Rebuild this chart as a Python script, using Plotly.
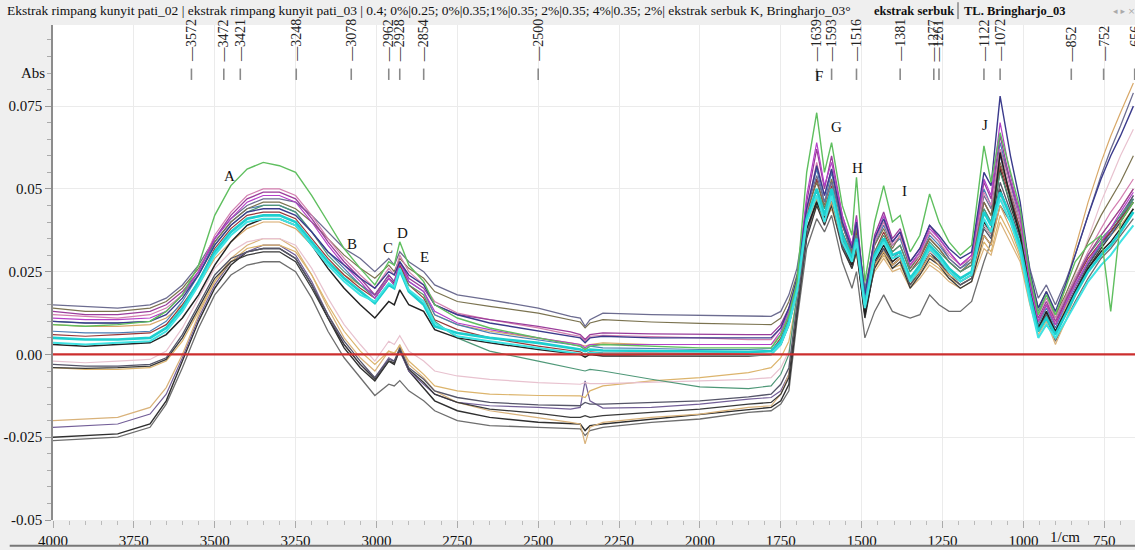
import plotly.graph_objects as go

# Wavenumber grid (1/cm), high to low
wavenumber = [4000, 3900, 3800, 3700, 3650, 3600, 3550, 3500, 3450, 3400,
              3350, 3300, 3250, 3200, 3150, 3100, 3050, 3005, 2962, 2945,
              2928, 2900, 2854, 2820, 2750, 2650, 2500, 2400, 2370, 2355,
              2340, 2300, 2150, 2000, 1850, 1780,
              1750, 1725, 1700, 1670, 1639, 1615, 1593, 1560, 1530, 1516,
              1490, 1460, 1432, 1405, 1381, 1350, 1320, 1290, 1261, 1230,
              1195, 1160, 1122, 1100, 1072, 1040, 1010, 980, 954, 929,
              901, 870, 840, 800, 760, 730, 700, 660]

# Absorbance spectra
abs_slate = [0.015, 0.0145, 0.014, 0.015, 0.017, 0.021, 0.027, 0.035, 0.041, 0.045,
             0.047, 0.047, 0.046, 0.042, 0.037, 0.032, 0.029, 0.025, 0.029, 0.027,
             0.031, 0.028, 0.025, 0.021, 0.018, 0.0165, 0.014, 0.0115, 0.011, 0.0085,
             0.0105, 0.0125, 0.012, 0.0118, 0.0115, 0.0115,
             0.013, 0.018, 0.026, 0.044, 0.054, 0.046, 0.052, 0.040, 0.030, 0.036,
             0.020, 0.034, 0.040, 0.034, 0.037, 0.027, 0.031, 0.037, 0.034, 0.029,
             0.026, 0.029, 0.048, 0.044, 0.062, 0.052, 0.043, 0.026, 0.017, 0.021,
             0.015, 0.022, 0.030, 0.042, 0.054, 0.062, 0.069, 0.079]
abs_olive = [0.014, 0.013, 0.013, 0.014, 0.016, 0.020, 0.026, 0.034, 0.040, 0.044,
             0.046, 0.046, 0.044, 0.040, 0.035, 0.030, 0.026, 0.023, 0.027, 0.025,
             0.029, 0.026, 0.023, 0.019, 0.016, 0.0145, 0.0125, 0.0105, 0.0098, 0.008,
             0.0095, 0.0105, 0.0098, 0.0094, 0.009, 0.009,
             0.011, 0.016, 0.024, 0.043, 0.052, 0.045, 0.053, 0.039, 0.031, 0.038,
             0.019, 0.033, 0.038, 0.032, 0.036, 0.026, 0.030, 0.035, 0.032, 0.028,
             0.025, 0.028, 0.046, 0.042, 0.058, 0.049, 0.040, 0.024, 0.014, 0.019,
             0.012, 0.018, 0.025, 0.034, 0.042, 0.047, 0.052, 0.060]
abs_purple = [0.013, 0.012, 0.012, 0.013, 0.015, 0.019, 0.025, 0.035, 0.042, 0.047,
              0.049, 0.049, 0.047, 0.041, 0.034, 0.028, 0.023, 0.018, 0.024, 0.022,
              0.028, 0.023, 0.020, 0.015, 0.012, 0.0105, 0.0085, 0.0068, 0.006, 0.0045,
              0.006, 0.0065, 0.0062, 0.006, 0.006, 0.006,
              0.009, 0.014, 0.022, 0.046, 0.062, 0.050, 0.060, 0.042, 0.033, 0.042,
              0.017, 0.036, 0.043, 0.035, 0.038, 0.028, 0.032, 0.039, 0.035, 0.031,
              0.027, 0.030, 0.052, 0.047, 0.066, 0.052, 0.042, 0.022, 0.011, 0.016,
              0.010, 0.016, 0.022, 0.030, 0.036, 0.040, 0.044, 0.050]
abs_pink = [0.012, 0.0115, 0.011, 0.012, 0.014, 0.018, 0.025, 0.036, 0.043, 0.048,
            0.050, 0.050, 0.048, 0.042, 0.035, 0.029, 0.024, 0.020, 0.026, 0.024,
            0.030, 0.025, 0.021, 0.016, 0.0125, 0.0105, 0.008, 0.006, 0.0055, 0.004,
            0.0055, 0.0058, 0.0055, 0.005, 0.0045, 0.0045,
            0.008, 0.013, 0.021, 0.043, 0.058, 0.048, 0.056, 0.041, 0.032, 0.040,
            0.016, 0.034, 0.040, 0.033, 0.036, 0.027, 0.030, 0.037, 0.034, 0.030,
            0.027, 0.029, 0.049, 0.045, 0.062, 0.050, 0.040, 0.022, 0.012, 0.017,
            0.011, 0.017, 0.023, 0.031, 0.038, 0.043, 0.047, 0.053]
abs_green = [0.009, 0.0085, 0.009, 0.010, 0.013, 0.018, 0.027, 0.042, 0.051, 0.056,
             0.058, 0.057, 0.055, 0.048, 0.040, 0.032, 0.026, 0.021, 0.028, 0.027,
             0.034, 0.027, 0.022, 0.015, 0.011, 0.008, 0.005, 0.003, 0.0025, 0.0015,
             0.0025, 0.003, 0.0025, 0.002, 0.002, 0.002,
             0.006, 0.012, 0.022, 0.055, 0.073, 0.055, 0.064, 0.045, 0.036, 0.0535,
             0.022, 0.040, 0.051, 0.040, 0.042, 0.031, 0.036, 0.0485, 0.040, 0.034,
             0.030, 0.033, 0.063, 0.052, 0.067, 0.055, 0.044, 0.024, 0.012, 0.018,
             0.012, 0.020, 0.028, 0.033, 0.036, 0.013, 0.040, 0.046]
abs_seagreen = [0.010, 0.0095, 0.0095, 0.010, 0.013, 0.018, 0.024, 0.033, 0.039, 0.043,
                0.045, 0.045, 0.043, 0.037, 0.030, 0.025, 0.021, 0.017, 0.023, 0.021,
                0.026, 0.021, 0.018, 0.010, 0.005, 0.001, -0.002, -0.004, -0.0045, -0.005,
                -0.0045, -0.005, -0.0075, -0.0098, -0.0103, -0.0095,
                -0.006, 0.000, 0.018, 0.040, 0.050, 0.044, 0.050, 0.037, 0.030, 0.036,
                0.019, 0.031, 0.036, 0.031, 0.033, 0.025, 0.028, 0.034, 0.031, 0.028,
                0.025, 0.027, 0.044, 0.040, 0.055, 0.046, 0.037, 0.023, 0.013, 0.018,
                0.011, 0.017, 0.023, 0.030, 0.035, 0.038, 0.042, 0.047]
abs_cyan = [0.005, 0.0045, 0.0045, 0.005, 0.008, 0.014, 0.022, 0.031, 0.037, 0.041,
            0.042, 0.042, 0.040, 0.034, 0.028, 0.023, 0.019, 0.0155, 0.021, 0.020,
            0.0255, 0.019, 0.015, 0.0085, 0.0065, 0.005, 0.0035, 0.002, 0.0015, 0.001,
            0.0015, 0.0012, 0.001, 0.0008, 0.0008, 0.001,
            0.004, 0.010, 0.020, 0.041, 0.050, 0.042, 0.050, 0.036, 0.029, 0.035,
            0.015, 0.030, 0.035, 0.030, 0.031, 0.023, 0.027, 0.033, 0.030, 0.026,
            0.023, 0.025, 0.043, 0.039, 0.049, 0.042, 0.033, 0.018, 0.007, 0.011,
            0.006, 0.012, 0.018, 0.025, 0.030, 0.033, 0.037, 0.043]
abs_aqua = [0.0035, 0.003, 0.0035, 0.004, 0.007, 0.013, 0.021, 0.030, 0.036, 0.040,
            0.041, 0.041, 0.039, 0.033, 0.027, 0.022, 0.018, 0.016, 0.0215, 0.0205,
            0.026, 0.0195, 0.016, 0.0095, 0.0055, 0.004, 0.002, 0.0008, 0.0003, 0.0,
            0.0005, 0.0003, 0.0, -0.0002, -0.0002, 0.0,
            0.003, 0.009, 0.019, 0.040, 0.048, 0.040, 0.048, 0.034, 0.028, 0.034,
            0.014, 0.029, 0.034, 0.029, 0.030, 0.022, 0.026, 0.032, 0.029, 0.025,
            0.022, 0.024, 0.041, 0.037, 0.047, 0.040, 0.031, 0.016, 0.005, 0.009,
            0.005, 0.010, 0.015, 0.022, 0.027, 0.030, 0.034, 0.039]
abs_steel = [0.007, 0.0065, 0.0065, 0.007, 0.010, 0.016, 0.024, 0.034, 0.040, 0.044,
             0.045, 0.045, 0.043, 0.037, 0.031, 0.026, 0.021, 0.018, 0.024, 0.022,
             0.027, 0.022, 0.019, 0.012, 0.009, 0.0065, 0.0045, 0.003, 0.0025, 0.0015,
             0.0025, 0.002, 0.0018, 0.0015, 0.0015, 0.0018,
             0.006, 0.012, 0.021, 0.044, 0.056, 0.046, 0.055, 0.039, 0.031, 0.039,
             0.017, 0.033, 0.039, 0.033, 0.035, 0.026, 0.030, 0.036, 0.033, 0.029,
             0.026, 0.028, 0.050, 0.045, 0.064, 0.052, 0.040, 0.020, 0.009, 0.014,
             0.008, 0.015, 0.021, 0.028, 0.033, 0.036, 0.041, 0.047]
abs_black = [0.003, 0.0025, 0.003, 0.0035, 0.006, 0.011, 0.018, 0.027, 0.034, 0.039,
             0.041, 0.041, 0.039, 0.033, 0.026, 0.020, 0.015, 0.011, 0.016, 0.015,
             0.0195, 0.015, 0.013, 0.0075, 0.005, 0.0035, 0.0015, 0.0005, 0.0, -0.0008,
             0.0, -0.0005, -0.0005, -0.0005, -0.0005, 0.0,
             0.003, 0.009, 0.019, 0.038, 0.046, 0.041, 0.048, 0.034, 0.027, 0.033,
             0.012, 0.028, 0.033, 0.028, 0.030, 0.022, 0.026, 0.032, 0.029, 0.025,
             0.022, 0.024, 0.040, 0.037, 0.061, 0.047, 0.036, 0.019, 0.008, 0.013,
             0.007, 0.013, 0.019, 0.026, 0.031, 0.034, 0.038, 0.044]
abs_darkred = [0.006, 0.0055, 0.006, 0.0065, 0.009, 0.015, 0.022, 0.032, 0.038, 0.042,
               0.043, 0.043, 0.041, 0.035, 0.029, 0.024, 0.020, 0.017, 0.023, 0.0215,
               0.027, 0.021, 0.017, 0.0105, 0.0075, 0.005, 0.0025, 0.0012, 0.0008, 0.0,
               0.0008, 0.0005, 0.0003, 0.0003, 0.0005, 0.001,
               0.005, 0.011, 0.020, 0.042, 0.053, 0.044, 0.051, 0.037, 0.030, 0.037,
               0.016, 0.031, 0.037, 0.031, 0.033, 0.025, 0.029, 0.035, 0.032, 0.028,
               0.025, 0.027, 0.046, 0.042, 0.057, 0.047, 0.038, 0.020, 0.010, 0.015,
               0.009, 0.016, 0.022, 0.029, 0.034, 0.037, 0.041, 0.046]
abs_tan = [0.009, 0.0085, 0.0085, 0.009, 0.011, 0.015, 0.021, 0.029, 0.034, 0.038,
           0.040, 0.040, 0.038, 0.033, 0.028, 0.024, 0.021, 0.018, 0.023, 0.021,
           0.026, 0.021, 0.018, 0.012, 0.009, 0.007, 0.005, 0.0035, 0.003, 0.0025,
           0.003, 0.0035, 0.003, 0.003, 0.003, 0.003,
           0.006, 0.012, 0.021, 0.040, 0.047, 0.041, 0.046, 0.034, 0.028, 0.032,
           0.018, 0.027, 0.031, 0.027, 0.029, 0.022, 0.025, 0.030, 0.027, 0.024,
           0.022, 0.024, 0.036, 0.033, 0.045, 0.038, 0.030, 0.018, 0.010, 0.015,
           0.011, 0.020, 0.032, 0.046, 0.058, 0.066, 0.073, 0.082]
abs_navy = [0.010, 0.0095, 0.0095, 0.010, 0.012, 0.017, 0.024, 0.033, 0.039, 0.043,
            0.044, 0.044, 0.042, 0.037, 0.031, 0.027, 0.023, 0.020, 0.025, 0.024,
            0.028, 0.024, 0.021, 0.015, 0.012, 0.0095, 0.007, 0.0055, 0.005, 0.0035,
            0.005, 0.0055, 0.005, 0.005, 0.005, 0.005,
            0.008, 0.014, 0.023, 0.044, 0.057, 0.048, 0.056, 0.040, 0.032, 0.040,
            0.018, 0.035, 0.041, 0.034, 0.037, 0.028, 0.032, 0.039, 0.036, 0.032,
            0.029, 0.031, 0.055, 0.051, 0.078, 0.060, 0.046, 0.025, 0.014, 0.019,
            0.013, 0.021, 0.030, 0.042, 0.053, 0.060, 0.066, 0.075]
abs_magenta = [0.011, 0.0105, 0.0105, 0.011, 0.013, 0.018, 0.025, 0.035, 0.041, 0.046,
               0.048, 0.048, 0.046, 0.040, 0.033, 0.027, 0.022, 0.017, 0.023, 0.021,
               0.028, 0.022, 0.019, 0.013, 0.0095, 0.0075, 0.005, 0.0035, 0.003, 0.002,
               0.003, 0.003, 0.003, 0.003, 0.003, 0.003,
               0.007, 0.013, 0.022, 0.048, 0.064, 0.051, 0.058, 0.042, 0.033, 0.041,
               0.017, 0.035, 0.042, 0.034, 0.037, 0.027, 0.031, 0.038, 0.035, 0.031,
               0.027, 0.030, 0.053, 0.048, 0.070, 0.054, 0.042, 0.021, 0.010, 0.015,
               0.009, 0.015, 0.021, 0.028, 0.034, 0.038, 0.043, 0.049]
abs_darkslate = [-0.003, -0.0035, -0.0035, -0.003, -0.001, 0.006, 0.015, 0.024, 0.029, 0.031,
                 0.032, 0.032, 0.029, 0.021, 0.012, 0.004, -0.002, -0.007, -0.0015, -0.002,
                 0.002, -0.004, -0.0075, -0.011, -0.013, -0.0145, -0.0152, -0.0155, -0.0155, -0.0145,
                 -0.015, -0.015, -0.0145, -0.014, -0.0128, -0.012,
                 -0.009, -0.004, 0.015, 0.036, 0.047, 0.040, 0.046, 0.033, 0.027, 0.032,
                 0.013, 0.027, 0.032, 0.027, 0.029, 0.021, 0.025, 0.030, 0.028, 0.024,
                 0.021, 0.023, 0.038, 0.035, 0.052, 0.043, 0.035, 0.018, 0.008, 0.012,
                 0.007, 0.013, 0.019, 0.027, 0.033, 0.037, 0.041, 0.048]
abs_charcoal = [-0.004, -0.0042, -0.004, -0.0035, -0.0015, 0.005, 0.014, 0.023, 0.028, 0.030,
                0.031, 0.031, 0.028, 0.020, 0.011, 0.003, -0.003, -0.0075, -0.002, -0.0025,
                0.0015, -0.0045, -0.0085, -0.012, -0.0145, -0.0165, -0.0178, -0.019, -0.019, -0.0185,
                -0.019, -0.0185, -0.0175, -0.0165, -0.015, -0.0145,
                -0.012, -0.007, 0.013, 0.035, 0.045, 0.039, 0.045, 0.032, 0.026, 0.031,
                0.012, 0.026, 0.031, 0.026, 0.028, 0.020, 0.024, 0.029, 0.027, 0.023,
                0.020, 0.022, 0.036, 0.033, 0.050, 0.041, 0.033, 0.017, 0.007, 0.011,
                0.006, 0.012, 0.018, 0.026, 0.032, 0.036, 0.040, 0.046]
abs_palepink = [-0.002, -0.0025, -0.002, -0.0015, 0.001, 0.008, 0.017, 0.026, 0.031, 0.034,
                0.035, 0.035, 0.033, 0.026, 0.017, 0.009, 0.003, -0.002, 0.004, 0.003,
                0.0057, 0.001, -0.002, -0.005, -0.0065, -0.0075, -0.0085, -0.009, -0.009, -0.0085,
                -0.0088, -0.0088, -0.0085, -0.008, -0.0075, -0.007,
                -0.004, 0.001, 0.016, 0.037, 0.048, 0.041, 0.047, 0.034, 0.028, 0.033,
                0.016, 0.028, 0.033, 0.028, 0.030, 0.023, 0.026, 0.031, 0.029, 0.026,
                0.023, 0.025, 0.039, 0.036, 0.048, 0.041, 0.033, 0.019, 0.010, 0.014,
                0.009, 0.016, 0.024, 0.035, 0.046, 0.053, 0.060, 0.068]
abs_wheat = [-0.004, -0.0045, -0.0045, -0.004, -0.002, 0.004, 0.013, 0.022, 0.028, 0.032,
             0.033, 0.033, 0.031, 0.024, 0.015, 0.007, 0.001, -0.003, 0.001, 0.0005,
             0.0025, -0.002, -0.006, -0.0095, -0.011, -0.012, -0.0124, -0.0125, -0.0125, -0.013,
             -0.011, -0.0095, -0.008, -0.007, -0.0055, -0.004,
             -0.001, 0.004, 0.017, 0.037, 0.046, 0.040, 0.045, 0.034, 0.028, 0.031,
             0.017, 0.026, 0.030, 0.026, 0.027, 0.021, 0.024, 0.028, 0.026, 0.023,
             0.021, 0.023, 0.034, 0.031, 0.042, 0.036, 0.029, 0.016, 0.008, 0.012,
             0.006, 0.014, 0.022, 0.030, 0.036, 0.040, 0.044, 0.050]
abs_sand = [-0.020, -0.0195, -0.019, -0.016, -0.010, 0.000, 0.012, 0.022, 0.029, 0.033,
            0.035, 0.035, 0.032, 0.024, 0.014, 0.005, -0.001, -0.005, 0.001, 0.000,
            0.003, -0.003, -0.007, -0.011, -0.0145, -0.017, -0.019, -0.0205, -0.021, -0.027,
            -0.022, -0.0205, -0.019, -0.018, -0.016, -0.0155,
            -0.012, -0.006, 0.014, 0.036, 0.045, 0.040, 0.044, 0.033, 0.027, 0.030,
            0.016, 0.025, 0.029, 0.025, 0.026, 0.020, 0.023, 0.027, 0.025, 0.022,
            0.020, 0.022, 0.032, 0.030, 0.040, 0.034, 0.028, 0.015, 0.006, 0.010,
            0.003, 0.010, 0.018, 0.026, 0.032, 0.036, 0.039, 0.044]
abs_mauve = [-0.022, -0.0215, -0.021, -0.018, -0.012, -0.001, 0.011, 0.021, 0.028, 0.031,
             0.033, 0.033, 0.030, 0.022, 0.012, 0.003, -0.003, -0.007, -0.001, -0.002,
             0.001, -0.005, -0.009, -0.012, -0.0145, -0.0155, -0.016, -0.0165, -0.016, -0.008,
             -0.014, -0.0162, -0.016, -0.015, -0.0135, -0.013,
             -0.011, -0.006, 0.014, 0.037, 0.048, 0.041, 0.049, 0.035, 0.028, 0.034,
             0.014, 0.029, 0.034, 0.029, 0.031, 0.023, 0.027, 0.033, 0.030, 0.026,
             0.023, 0.025, 0.044, 0.040, 0.060, 0.048, 0.038, 0.019, 0.008, 0.012,
             0.007, 0.014, 0.020, 0.028, 0.034, 0.038, 0.042, 0.048]
abs_ink = [-0.025, -0.0245, -0.024, -0.021, -0.014, -0.002, 0.010, 0.020, 0.027, 0.031,
           0.032, 0.032, 0.029, 0.021, 0.011, 0.002, -0.004, -0.008, -0.002, -0.003,
           0.0015, -0.005, -0.010, -0.014, -0.017, -0.019, -0.0205, -0.021, -0.021, -0.023,
           -0.0215, -0.021, -0.0195, -0.018, -0.0165, -0.016,
           -0.014, -0.009, 0.012, 0.036, 0.046, 0.040, 0.047, 0.033, 0.026, 0.032,
           0.011, 0.027, 0.032, 0.027, 0.029, 0.021, 0.025, 0.031, 0.028, 0.024,
           0.021, 0.023, 0.039, 0.036, 0.056, 0.045, 0.036, 0.018, 0.007, 0.012,
           0.006, 0.013, 0.019, 0.027, 0.033, 0.037, 0.041, 0.047]
abs_grey = [-0.026, -0.0255, -0.025, -0.022, -0.015, -0.004, 0.008, 0.018, 0.024, 0.027,
            0.028, 0.028, 0.025, 0.017, 0.007, -0.001, -0.007, -0.0124, -0.009, -0.0095,
            -0.0079, -0.011, -0.014, -0.017, -0.020, -0.0215, -0.022, -0.0225, -0.0225, -0.0245,
            -0.023, -0.022, -0.0205, -0.0195, -0.0175, -0.017,
            -0.015, -0.011, 0.010, 0.032, 0.041, 0.037, 0.042, 0.028, 0.020, 0.025,
            0.005, 0.013, 0.018, 0.013, 0.012, 0.011, 0.012, 0.018, 0.015, 0.013,
            0.013, 0.016, 0.028, 0.034, 0.045, 0.040, 0.032, 0.018, 0.007, 0.011,
            0.004, 0.010, 0.016, 0.023, 0.029, 0.032, 0.036, 0.041]

# (spectrum, colour, width) in drawing order
spectra = [
    (abs_grey, "#6e6e6e", 1.3), (abs_ink, "#2f2f2f", 1.4), (abs_mauve, "#735f98", 1.2),
    (abs_sand, "#d9b27a", 1.2), (abs_wheat, "#dcb46c", 1.2), (abs_palepink, "#e8c2cf", 1.2),
    (abs_charcoal, "#3a3a3a", 1.3), (abs_darkslate, "#555568", 1.3),
    (abs_tan, "#d8a868", 1.2), (abs_steel, "#4b7db5", 1.2), (abs_darkred, "#983838", 1.2),
    (abs_olive, "#7b7350", 1.2), (abs_slate, "#6c6c90", 1.3), (abs_seagreen, "#4f9878", 1.2),
    (abs_pink, "#d37fb0", 1.2), (abs_purple, "#9b3d9b", 1.3), (abs_magenta, "#b440c8", 1.2),
    (abs_navy, "#3b3b8c", 1.4), (abs_black, "#222222", 1.5), (abs_cyan, "#1ccfcf", 2.6),
    (abs_aqua, "#3fe3e3", 2.0), (abs_green, "#5fbf5f", 1.4),
]

peak_positions = [3572, 3472, 3421, 3248, 3078, 2962, 2928, 2854, 2500,
                  1639, 1593, 1516, 1381, 1277, 1261, 1122, 1072, 852, 752, 656]

band_letters = ["A", "B", "C", "D", "E", "F", "G", "H", "I", "J"]
band_letter_x = [3453, 3076, 2964, 2918, 2853, 1632, 1577, 1512, 1369, 1119]
band_letter_y = [0.0538, 0.0335, 0.0323, 0.0368, 0.0293, 0.0840, 0.0686, 0.0562, 0.0495, 0.0692]

x_ticks = [4000, 3750, 3500, 3250, 3000, 2750, 2500, 2250, 2000, 1750, 1500, 1250, 1000, 750]
y_ticks = [-0.05, -0.025, 0.0, 0.025, 0.05, 0.075]
y_tick_text = ["-0.05", "-0.025", "0.00", "0.025", "0.05", "0.075"]

for s, _, _ in spectra:
    assert len(s) == len(wavenumber), len(s)

SERIF = "Liberation Serif"

fig = go.Figure()
for s, color, width in spectra:
    fig.add_trace(go.Scatter(x=wavenumber, y=s, mode="lines",
                             line=dict(color=color, width=width),
                             hoverinfo="skip", showlegend=False))

# zero baseline
fig.add_shape(type="line", xref="paper", yref="y", x0=0, x1=1, y0=0, y1=0,
              line=dict(color="#cc2e2e", width=2.2), layer="above")

annotations = []
# wavenumber markers along the top
for p in peak_positions:
    annotations.append(dict(x=p, xref="x", y=0.921, yref="paper", text="\u2014" + str(p),
                            textangle=-90, showarrow=False, xanchor="center", yanchor="bottom",
                            font=dict(family=SERIF, size=14, color="#222222")))
    fig.add_shape(type="line", xref="x", yref="paper", x0=p, x1=p, y0=0.889, y1=0.912,
                  line=dict(color="#8a8a8a", width=1.6))

for t, xx, yy in zip(band_letters, band_letter_x, band_letter_y):
    annotations.append(dict(x=xx, y=yy, xref="x", yref="y", text=t, showarrow=False,
                            font=dict(family=SERIF, size=15, color="#111111")))

annotations += [
    dict(x=-0.006, y=0.085, xref="paper", yref="y", text="Abs", showarrow=False,
         xanchor="right", font=dict(family=SERIF, size=15, color="#111111")),
    dict(x=0.935, y=-0.035, xref="paper", yref="paper", text="1/cm", showarrow=False,
         xanchor="center", yanchor="middle", font=dict(family=SERIF, size=15, color="#111111")),
    dict(x=-0.0445, y=1.029, xref="paper", yref="paper", showarrow=False, xanchor="left",
         yanchor="middle",
         text="Ekstrak rimpang kunyit pati_02 | ekstrak rimpang kunyit pati_03 | 0.4; 0%|0.25; 0%|"
              "0.35;1%|0.35; 2%|0.35; 4%|0.35; 2%| ekstrak serbuk K, Bringharjo_03\u00b0",
         font=dict(family=SERIF, size=13.5, color="#111111")),
    dict(x=(872 - 53) / 1082, y=1.029, xref="paper", yref="paper", showarrow=False,
         xanchor="left", yanchor="middle", text="<b>ekstrak serbuk</b>",
         font=dict(family=SERIF, size=12.5, color="#111111")),
    dict(x=(962 - 53) / 1082, y=1.029, xref="paper", yref="paper", showarrow=False,
         xanchor="left", yanchor="middle", text="<b>TL. Bringharjo_03</b>",
         font=dict(family=SERIF, size=12.5, color="#111111")),
    dict(x=(1111 - 53) / 1082, y=1.029, xref="paper", yref="paper", showarrow=False,
         xanchor="left", yanchor="middle", text="\u25c2 \u25b8 \u00d7",
         font=dict(family="DejaVu Sans", size=9, color="#aaaaaa")),
]

# separator inside the header and the bottom rule
fig.add_shape(type="line", xref="paper", yref="paper", x0=(958 - 53) / 1082, x1=(958 - 53) / 1082,
              y0=1.012, y1=1.046, line=dict(color="#555555", width=1))
fig.add_shape(type="line", xref="paper", yref="paper", x0=-0.04, x1=1.0, y0=-0.052, y1=-0.052,
              line=dict(color="#777777", width=2))

fig.update_layout(
    width=1135, height=550,
    margin=dict(l=53, r=0, t=25, b=30),
    paper_bgcolor="#efefef", plot_bgcolor="#ffffff",
    showlegend=False, hovermode=False,
    annotations=annotations,
    font=dict(family=SERIF, size=15, color="#111111"),
)
fig.update_xaxes(range=[4000, 655], tickvals=x_ticks, ticks="outside", ticklen=7,
                 tickcolor="#aaaaaa", showgrid=True, gridcolor="#ebebeb", gridwidth=1,
                 zeroline=False, showline=False,
                 tickfont=dict(family=SERIF, size=15, color="#111111"),
                 minor=dict(dtick=50, ticks="outside", ticklen=4, tickcolor="#bbbbbb", showgrid=False))
fig.update_yaxes(range=[-0.05, 0.0995], tickvals=y_ticks, ticktext=y_tick_text,
                 ticks="outside", ticklen=6, tickcolor="#999999",
                 showgrid=True, gridcolor="#ebebeb", gridwidth=1, zeroline=False,
                 showline=True, linecolor="#8c8c8c", linewidth=1.5,
                 tickfont=dict(family=SERIF, size=15, color="#111111"),
                 minor=dict(dtick=0.005, ticks="outside", ticklen=4, tickcolor="#aaaaaa", showgrid=False))

fig.write_html("out.html")
